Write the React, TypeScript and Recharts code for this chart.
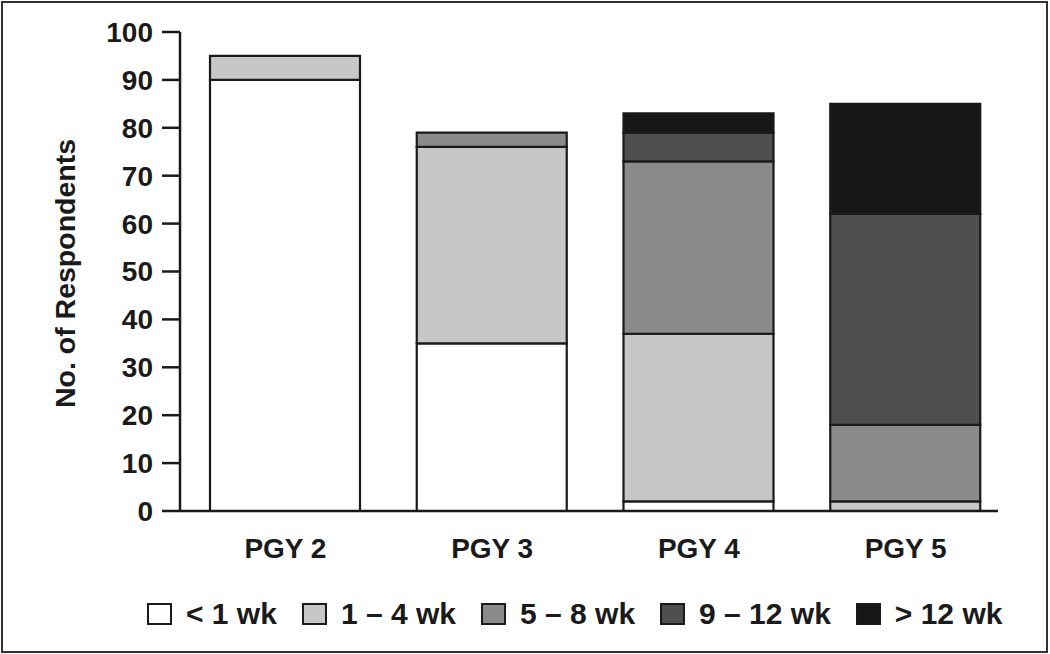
import React from 'react';
import { BarChart, Bar, XAxis, YAxis, Legend } from 'recharts';

// values (respondents per PGY year)
const years = ['PGY 2', 'PGY 3', 'PGY 4', 'PGY 5'];
const under1wk = [90, 35, 2, 0];
const wk1to4 = [5, 41, 35, 2];
const wk5to8 = [0, 3, 36, 16];
const wk9to12 = [0, 0, 6, 44];
const over12wk = [0, 0, 4, 23];
const yTicks = [0, 10, 20, 30, 40, 50, 60, 70, 80, 90, 100];

const series = [
  { key: 'under1', name: '< 1 wk', color: '#ffffff', values: under1wk },
  { key: 'w1to4', name: '1 – 4 wk', color: '#c7c7c7', values: wk1to4 },
  { key: 'w5to8', name: '5 – 8 wk', color: '#8a8a8a', values: wk5to8 },
  { key: 'w9to12', name: '9 – 12 wk', color: '#4f4f4f', values: wk9to12 },
  { key: 'over12', name: '> 12 wk', color: '#171717', values: over12wk },
];

const data = years.map((year, i) => {
  const row: any = { year };
  series.forEach(s => { row[s.key] = s.values[i]; });
  return row;
});

const FONT = '"Liberation Sans", Arial, Helvetica, sans-serif';
const INK = '#1a1a1a';

const YLabel = (props: any) => {
  const vb = props.viewBox || { x: 0, y: 0, width: 0, height: 0 };
  const cy = vb.y + vb.height / 2 + 2;
  return (
    <text
      x={75}
      y={cy}
      transform={`rotate(-90, 75, ${cy})`}
      textAnchor="middle"
      fontFamily={FONT}
      fontWeight="bold"
      fontSize={28.5}
      fill={INK}
    >
      No. of Respondents
    </text>
  );
};

const renderLegend = () => (
  <div style={{ display: 'flex', alignItems: 'center', fontFamily: FONT, fontWeight: 'bold', fontSize: 30, color: INK, whiteSpace: 'nowrap' }}>
    {series.map(s => (
      <div key={s.key} style={{ display: 'flex', alignItems: 'center', marginRight: 25 }}>
        <span style={{ display: 'inline-block', width: 25, height: 22, background: s.color, border: `2px solid ${INK}`, boxSizing: 'border-box', marginRight: 14 }} />
        <span>{s.name}</span>
      </div>
    ))}
  </div>
);

export default function App() {
  return (
    <div style={{ position: 'absolute', left: 0, top: 0, width: 1050, height: 654, background: '#fff' }}>
      <div style={{ position: 'absolute', left: 1, top: 1, width: 1047, height: 652, border: '2px solid #333', boxSizing: 'border-box' }} />
      <div style={{ position: 'absolute', left: 0, top: 0 }}>
        <BarChart width={1050} height={654} data={data} margin={{ top: 32, right: 52, left: 0, bottom: 83 }}>
          <XAxis
            dataKey="year"
            height={60}
            padding={{ left: 2, right: -11 }}
            tickLine={false}
            tickSize={0}
            tickMargin={27}
            axisLine={{ stroke: INK, strokeWidth: 2.5 }}
            tick={{ fill: INK, fontSize: 28, fontWeight: 'bold', fontFamily: FONT }}
          />
          <YAxis
            width={180}
            domain={[0, 100]}
            ticks={yTicks}
            interval={0}
            tickSize={18}
            tickMargin={9}
            axisLine={{ stroke: INK, strokeWidth: 2.5 }}
            tickLine={{ stroke: INK, strokeWidth: 2.5 }}
            tick={{ fill: INK, fontSize: 28, fontWeight: 'bold', fontFamily: FONT }}
            label={(p: any) => <YLabel {...p} />}
          />
          <Legend
            layout="horizontal"
            verticalAlign="middle"
            align="center"
            content={renderLegend}
            wrapperStyle={{ left: 147, top: 597, width: 'auto', height: 34 }}
          />
          {series.map(s => (
            <Bar
              key={s.key}
              dataKey={s.key}
              name={s.name}
              stackId="a"
              fill={s.color}
              stroke={INK}
              strokeWidth={2.2}
              barSize={150}
              isAnimationActive={false}
            />
          ))}
        </BarChart>
      </div>
    </div>
  );
}
